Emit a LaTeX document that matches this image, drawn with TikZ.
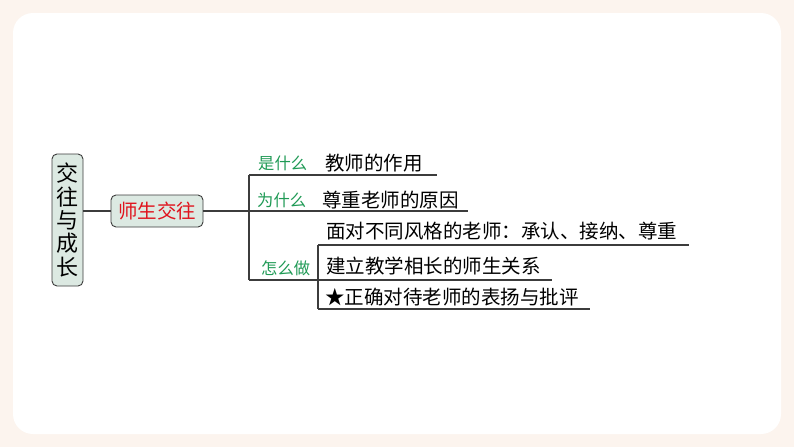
\documentclass[tikz,border=0pt]{standalone}
\usepackage{fontspec}
\setmainfont{Noto Sans CJK SC}
\usetikzlibrary{positioning}
\definecolor{framebg}{HTML}{FCF4EE}
\definecolor{boxfill}{HTML}{DCE9E2}
\definecolor{linegray}{HTML}{3C3C3C}
\definecolor{labelgreen}{HTML}{1F9A55}
\definecolor{topicred}{HTML}{E0141E}
\begin{document}
\begin{tikzpicture}[x=1pt,y=-1pt,
  box/.style={draw=linegray,fill=boxfill,rounded corners=5pt,line width=0.9pt,inner sep=0pt},
  lbl/.style={anchor=west,inner sep=0pt,text=labelgreen,font=\fontsize{16.3}{17}\selectfont},
  item/.style={anchor=west,inner sep=0pt,font=\fontsize{19.5}{20}\selectfont},
  ln/.style={draw=linegray,line width=1.1pt}]
% Background frame
\fill[framebg] (0,0) rectangle (794,447);
\fill[white,rounded corners=20pt] (13,13) rectangle (781,434);
\useasboundingbox (0,0) rectangle (794,447);
% Main box and topic
\node[box,minimum width=31pt,minimum height=132pt,align=center,font=\fontsize{22}{23.4}\selectfont] (main) at (67.5,220) {交\\往\\与\\成\\长};
\node[box,minimum width=92pt,minimum height=32pt,text=topicred,font=\fontsize{19.5}{20}\selectfont] (topic) at (157,211) {师生交往};
\draw[ln] (main.east |- topic.west) -- (topic.west);
% Bracket of the questions
\coordinate (br_0) at (249,211);
\coordinate (br_1) at (249,175);
\coordinate (br_3) at (249,280);
\coordinate (br_e1) at (437,175);
\coordinate (br_e2) at (468,211);
\draw[ln] (topic.east) -- (br_0);
\draw[ln] (br_1) -- (br_3);
\draw[ln] (br_1) -- (br_e1) (br_0) -- (br_e2);
% Questions and answers
\node[lbl] (q_1) at (258,163) {是什么};
\node[item] (a_1) at (325,163) {教师的作用};
\node[lbl] (q_2) at (257,200) {为什么};
\node[item] (a_2) at (322,200) {尊重老师的原因};
\node[lbl] (q_3) at (261,268) {怎么做};
% Sub bracket of how
\coordinate (sb_1) at (318,245);
\coordinate (sb_2) at (318,280);
\coordinate (sb_3) at (318,309);
\coordinate (sb_e1) at (689,245);
\coordinate (sb_e2) at (552,280);
\coordinate (sb_e3) at (590,309);
\draw[ln] (sb_1) -- (sb_3);
\draw[ln] (br_3) -- (sb_2);
\draw[ln] (sb_1) -- (sb_e1) (sb_2) -- (sb_e2) (sb_3) -- (sb_e3);
\node[item] (h_1) at (326,231) {面对不同风格的老师：承认、接纳、尊重};
\node[item] (h_2) at (326,266) {建立教学相长的师生关系};
\node[item] (h_3) at (325,297) {★正确对待老师的表扬与批评};
\end{tikzpicture}
\end{document}
